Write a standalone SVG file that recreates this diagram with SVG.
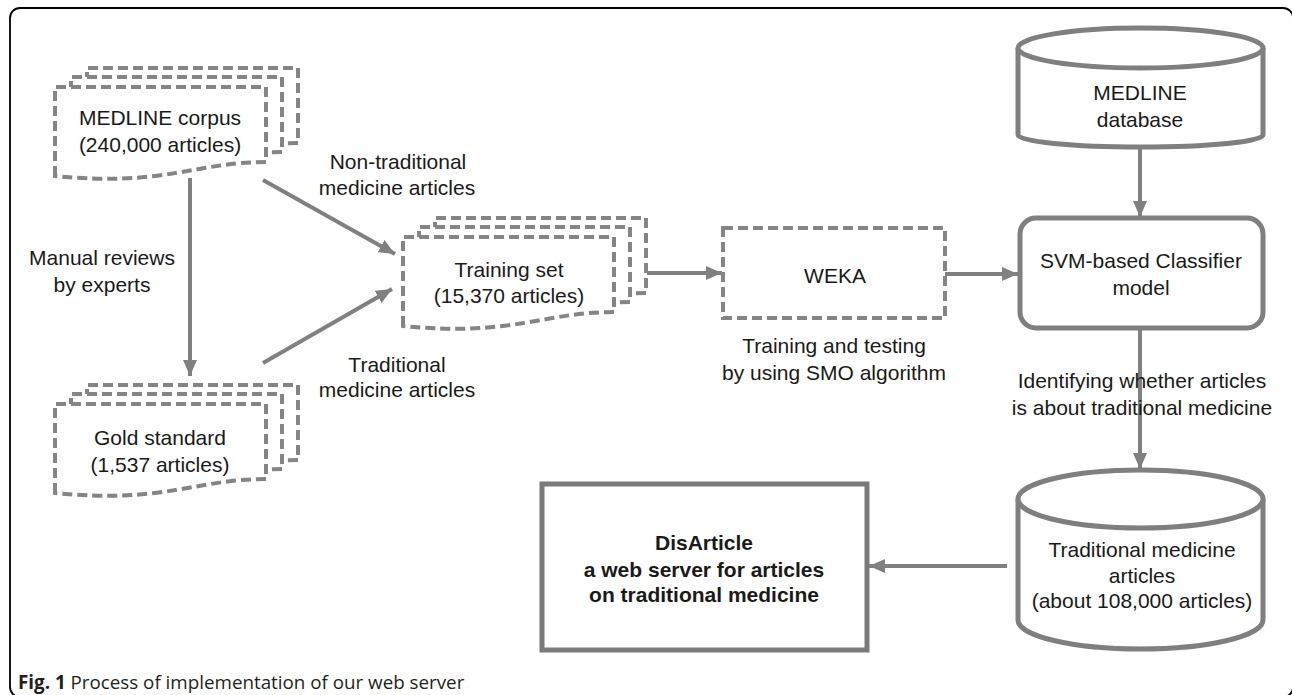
<svg xmlns="http://www.w3.org/2000/svg" width="1292" height="695" viewBox="0 0 1292 695">
<style>
.doc{fill:#fff;stroke:#858585;stroke-width:4;stroke-dasharray:10 5}
.dash{fill:#fff;stroke:#858585;stroke-width:4;stroke-dasharray:10 5}
.solid{fill:#fff;stroke:#7f7f7f;stroke-width:5}
.t{font-family:"Liberation Sans",Arial,sans-serif;font-size:21px;fill:#1a1a1a;text-anchor:middle}
.b{font-weight:bold}
.conn{stroke:#808080;stroke-width:4;fill:none;marker-end:url(#ah)}
.cap{font-family:"Open Sans","Liberation Sans",sans-serif;font-size:18.8px;fill:#231f20}
</style>
<defs>
<marker id="ah" markerUnits="userSpaceOnUse" markerWidth="16" markerHeight="14" refX="16" refY="7" orient="auto">
<path d="M0,0 L16,7 L0,14 Z" fill="#808080"/>
</marker>
<path id="docshape" d="M0,89 V0 H211 V75 C140,75 110,100 0,89 Z"/>
</defs>
<rect x="10" y="8" width="1283" height="689" rx="10" fill="none" stroke="#000" stroke-width="1.8"/>

<g id="connectors">
<line class="conn" x1="263" y1="180" x2="395" y2="254"/>
<line class="conn" x1="263" y1="363" x2="392" y2="289"/>
<line class="conn" x1="190" y1="178" x2="190" y2="376"/>
<line class="conn" x1="647" y1="273" x2="722" y2="273"/>
<line class="conn" x1="945" y1="274" x2="1018" y2="274"/>
<line class="conn" x1="1140" y1="147" x2="1140" y2="217"/>
<line class="conn" x1="1140" y1="328" x2="1140" y2="469"/>
<line class="conn" x1="1007" y1="566" x2="869" y2="566"/>
</g>

<g id="labels">
<text class="t" x="398" y="169">Non-traditional</text>
<text class="t" x="397" y="195">medicine articles</text>
<text class="t" x="102" y="265">Manual reviews</text>
<text class="t" x="102" y="292">by experts</text>
<text class="t" x="397" y="372">Traditional</text>
<text class="t" x="397" y="397">medicine articles</text>
<text class="t" x="834" y="353">Training and testing</text>
<text class="t" x="834" y="380">by using SMO algorithm</text>
<text class="t" x="1142" y="388">Identifying whether articles</text>
<text class="t" x="1142" y="415">is about traditional medicine</text>
</g>

<g id="medline-corpus">
<use href="#docshape" class="doc" x="87" y="68"/>
<use href="#docshape" class="doc" x="71" y="77"/>
<use href="#docshape" class="doc" x="55" y="87"/>
<text class="t" x="160" y="125">MEDLINE corpus</text>
<text class="t" x="160" y="152">(240,000 articles)</text>
</g>

<g id="gold-standard">
<use href="#docshape" class="doc" x="87" y="385"/>
<use href="#docshape" class="doc" x="71" y="394"/>
<use href="#docshape" class="doc" x="55" y="404"/>
<text class="t" x="160" y="445">Gold standard</text>
<text class="t" x="160" y="472">(1,537 articles)</text>
</g>

<g id="training-set">
<use href="#docshape" class="doc" x="435" y="218"/>
<use href="#docshape" class="doc" x="419" y="227"/>
<use href="#docshape" class="doc" x="403" y="237"/>
<text class="t" x="509" y="277">Training set</text>
<text class="t" x="509" y="303">(15,370 articles)</text>
</g>

<g id="weka">
<rect class="dash" x="723" y="228" width="222" height="90"/>
<text class="t" x="835" y="283">WEKA</text>
</g>

<g id="medline-db">
<path class="solid" d="M1018,48 V135 A122.5,12 0 0 0 1263,135 V48"/>
<ellipse class="solid" cx="1140.5" cy="48" rx="122.5" ry="20"/>
<text class="t" x="1140" y="100">MEDLINE</text>
<text class="t" x="1140" y="127">database</text>
</g>

<g id="svm">
<rect class="solid" x="1020" y="218" width="243" height="110" rx="16"/>
<text class="t" x="1141" y="268">SVM-based Classifier</text>
<text class="t" x="1141" y="295">model</text>
</g>

<g id="trad-articles">
<path class="solid" d="M1018,499 V620 A122.5,29 0 0 0 1263,620 V499"/>
<ellipse class="solid" cx="1140.5" cy="499" rx="122.5" ry="29"/>
<text class="t" x="1142" y="557">Traditional medicine</text>
<text class="t" x="1142" y="583">articles</text>
<text class="t" x="1142" y="608">(about 108,000 articles)</text>
</g>

<g id="disarticle">
<rect x="542" y="484" width="325" height="166" fill="#fff" stroke="#7a7a7a" stroke-width="5"/>
<text class="t b" x="704" y="550">DisArticle</text>
<text class="t b" x="704" y="577">a web server for articles</text>
<text class="t b" x="704" y="602">on traditional medicine</text>
</g>

<g id="caption">
<text class="cap" x="18" y="689"><tspan font-weight="bold">Fig. 1</tspan> Process of implementation of our web server</text>
</g>
</svg>
